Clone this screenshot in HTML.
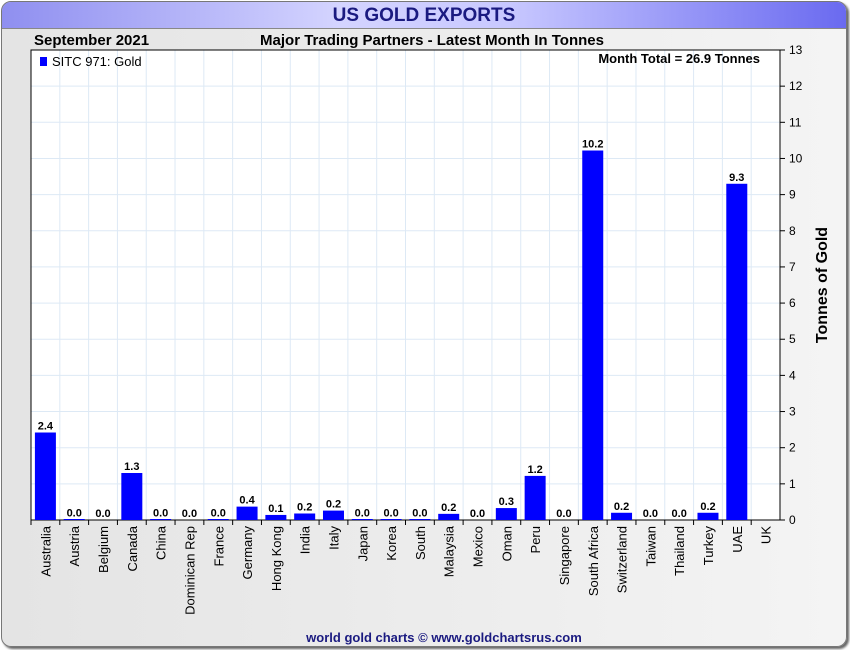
<!DOCTYPE html>
<html><head><meta charset="utf-8">
<style>
body{margin:0;width:850px;height:650px;overflow:hidden;background:#fff;font-family:"Liberation Sans",sans-serif;}
#frame{position:absolute;left:1px;top:1px;width:844px;height:644px;border:1px solid #777;border-radius:10px;background:linear-gradient(90deg,#e4e4e4,#f4f4f4);box-shadow:2px 2px 2px #666;overflow:hidden;}
#titlebar{position:absolute;left:0;top:0;width:844px;height:26px;background:linear-gradient(90deg,#8f8ff0,#d4d4ff 40%,#c8c8ff 60%,#6a6af0);border-bottom:1px solid #888;}
#title{position:absolute;left:0;width:844px;top:3px;text-align:center;font-weight:bold;font-size:19px;color:#1a1a80;}
</style></head>
<body>
<div id="frame">
<div id="titlebar"><div id="title">US GOLD EXPORTS</div></div>
</div>
<svg id="chart" width="850" height="650" style="position:absolute;left:0;top:0"></svg>
<script>
const categories=["Australia","Austria","Belgium","Canada","China","Dominican Rep","France","Germany","Hong Kong","India","Italy","Japan","Korea","South","Malaysia","Mexico","Oman","Peru","Singapore","South Africa","Switzerland","Taiwan","Thailand","Turkey","UAE","UK"];
const values=[2.42,0.02,0,1.3,0.02,0,0.02,0.37,0.14,0.18,0.26,0.02,0.02,0.02,0.17,0,0.33,1.22,0,10.22,0.2,0,0,0.2,9.3,null];
const labels=["2.4","0.0","0.0","1.3","0.0","0.0","0.0","0.4","0.1","0.2","0.2","0.0","0.0","0.0","0.2","0.0","0.3","1.2","0.0","10.2","0.2","0.0","0.0","0.2","9.3",""];
const yTicks=[0,1,2,3,4,5,6,7,8,9,10,11,12,13];
const NS="http://www.w3.org/2000/svg";
const svg=document.getElementById('chart');
const L=31,R=780,T=50,B=520,yMax=13;
const n=categories.length, step=(R-L)/n;
const y=v=>B-(v/yMax)*(B-T);
const xc=i=>L+step*(i+0.5);
function mk(tag,attrs,txt){const e=document.createElementNS(NS,tag);for(const k in attrs)e.setAttribute(k,attrs[k]);if(txt!==undefined)e.textContent=txt;svg.appendChild(e);return e;}
let e=mk('rect',{x:L,y:T,width:R-L,height:B-T,fill:'#fff'});


for(let i=1;i<n;i++){e=mk('line',{x1:L+step*i,x2:L+step*i,y1:T,y2:B,stroke:'#dde9f5','stroke-width':1});

}
yTicks.forEach(t=>{
 if(t>0&&t<yMax){e=mk('line',{x1:L,x2:R,y1:y(t),y2:y(t),stroke:'#dde9f5'});
 
 }
 e=mk('line',{x1:R,x2:R+5,y1:y(t),y2:y(t),stroke:'#000'});
 
 
 e=mk('text',{x:R+9,y:y(t)+4,'font-size':12,fill:'#000'},String(t));
 
 
});
e=mk('rect',{x:L,y:T,width:R-L,height:B-T,fill:'none',stroke:'#000','stroke-width':1});


categories.forEach((c,i)=>{
 const v=values[i];
 if(v!==null&&v>0){const h=Math.max(1,B-y(v));
  e=mk('rect',{x:xc(i)-10.5,y:B-h,width:21,height:h,fill:'#0000ff'});
  
  }
 if(labels[i]){e=mk('text',{x:xc(i),y:y(v||0)-3,'font-size':11,'font-weight':'bold','text-anchor':'middle',fill:'#000'},labels[i]);
  
  }
 e=mk('line',{x1:L+step*i,x2:L+step*i,y1:B,y2:B+5,stroke:'#000'});
 
 
 e=mk('text',{x:0,y:0,'font-size':13,'text-anchor':'end',fill:'#000',transform:`translate(${xc(i)+5},${B+6}) rotate(-90)`},c);
 
 
});
e=mk('text',{x:0,y:0,'font-size':16,'font-weight':'bold','text-anchor':'middle',transform:`translate(827,285) rotate(-90)`},'Tonnes of Gold');


e=mk('text',{x:34,y:45,'font-size':15,'font-weight':'bold'},'September 2021');


e=mk('text',{x:432,y:45,'font-size':15,'font-weight':'bold','text-anchor':'middle'},'Major Trading Partners - Latest Month In Tonnes');


e=mk('rect',{x:40,y:57,width:7,height:9,fill:'#0000ff'});


e=mk('text',{x:52,y:66,'font-size':13},'SITC 971: Gold');


e=mk('text',{x:760,y:63,'font-size':13,'font-weight':'bold','text-anchor':'end'},'Month Total = 26.9 Tonnes');


e=mk('text',{x:444,y:642,'font-size':13,'font-weight':'bold','text-anchor':'middle',fill:'#1a1a80'},'world gold charts © www.goldchartsrus.com');


</script>
</body></html>
